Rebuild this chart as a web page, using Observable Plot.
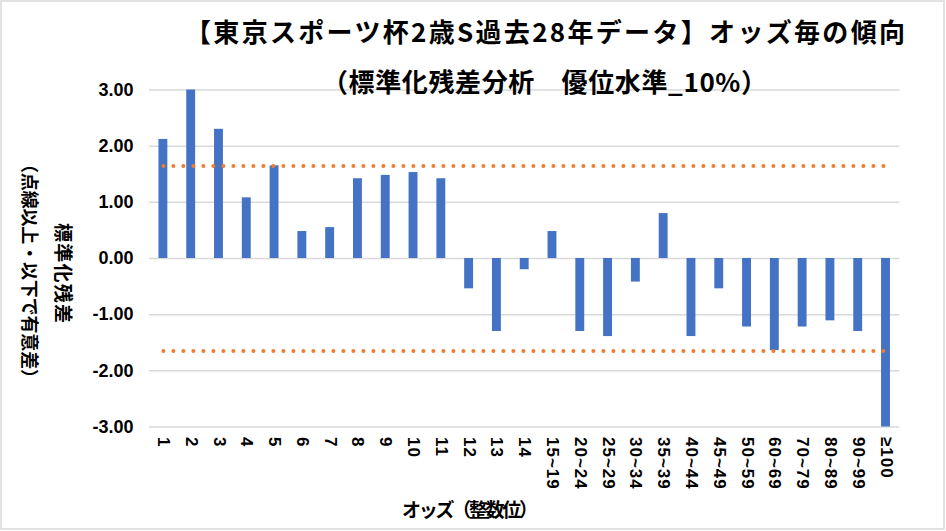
<!DOCTYPE html>
<html><head><meta charset="utf-8">
<script src="https://cdn.jsdelivr.net/npm/d3@7"></script>
<script src="https://cdn.jsdelivr.net/npm/@observablehq/plot@0.6"></script>
<style>html,body{margin:0;padding:0;background:#fff;} #chart{width:946px;height:531px;}</style>
</head><body><div id="chart"></div>
<script>
const categories = ["1","2","3","4","5","6","7","8","9","10","11","12","13","14","15~19","20~24","25~29","30~34","35~39","40~44","45~49","50~59","60~69","70~79","80~89","90~99","≥100"];
const values = [2.12, 3.00, 2.30, 1.08, 1.65, 0.48, 0.55, 1.42, 1.48, 1.53, 1.42, -0.54, -1.30, -0.20, 0.48, -1.30, -1.39, -0.42, 0.80, -1.39, -0.54, -1.22, -1.64, -1.22, -1.11, -1.30, -3.00];
const yTicks = [-3, -2, -1, 0, 1, 2, 3];
const thresholds = [1.645, -1.645];
const titleText = "【東京スポーツ杯2歳S過去28年データ】オッズ毎の傾向";
const subtitleText = "（標準化残差分析　優位水準_10%）";
const yLabel1 = "標準化残差";
const yLabel2 = "（点線以上・以下で有意差）";
const xLabel = "オッズ（整数位）";

const data = categories.map((c, i) => ({c, v: values[i]}));
const lineData = thresholds.flatMap(t => categories.map(c => ({c, t})));

const plot = Plot.plot({
  width: 946, height: 531,
  marginLeft: 149, marginRight: 46.6, marginTop: 89.5, marginBottom: 104.5,
  style: {fontFamily: "'Liberation Sans', Arial, sans-serif", fontWeight: "bold", color: "#000", background: "#fff", overflow: "visible"},
  x: {domain: categories, paddingInner: 0.68, paddingOuter: 0.34, round: false},
  y: {domain: [-3, 3]},
  marks: [
    Plot.ruleY(yTicks, {stroke: "#d9d9d9", strokeWidth: 1.5}),
    Plot.barY(data, {x: "c", y: "v", fill: "#4472C4"}),
    Plot.line(lineData, {x: "c", y: "t", z: "t", stroke: "#ED7D31", strokeWidth: 4, strokeDasharray: "0,10", strokeLinecap: "round"}),
    Plot.axisY(yTicks, {tickFormat: d => d.toFixed(2), tickSize: 0, tickPadding: 16, fontSize: 18, label: null}),
    Plot.axisX({tickRotate: 90, tickSize: 0, tickPadding: 10, fontSize: 17, textAnchor: "start", label: null})
  ]
});

const svg = d3.select(plot);
svg.selectAll("g[aria-label='x-axis tick label']").attr("letter-spacing", "1");
const cjk = "'Noto Sans CJK JP', 'Noto Sans CJK SC', sans-serif";
function addText(str, x, y, size, len, rotate, anchor) {
  const t = svg.append("text")
    .attr("transform", `translate(${x},${y})` + (rotate ? ` rotate(${rotate})` : ""))
    .attr("text-anchor", anchor)
    .attr("dominant-baseline", "central")
    .attr("font-family", cjk)
    .attr("font-weight", "bold")
    .attr("font-size", size)
    .attr("fill", "#000")
    .text(str);
  if (len) t.attr("textLength", len).attr("lengthAdjust", "spacing");
  return t;
}
addText(titleText, 185, 30, 26, 720, 0, "start");
addText(subtitleText, 322, 80, 26, 445, 0, "start");
addText(xLabel, 470, 508, 19, 136, 0, "middle");
addText(yLabel1, 64, 273, 19, 100, 90, "middle");
addText(yLabel2, 30.5, 271, 18, 232, 90, "middle");
svg.append("rect").attr("x", 1).attr("y", 1).attr("width", 943).attr("height", 528)
  .attr("fill", "none").attr("stroke", "#d9d9d9").attr("stroke-width", 1.5);

document.getElementById("chart").appendChild(plot);
</script>
</body></html>
